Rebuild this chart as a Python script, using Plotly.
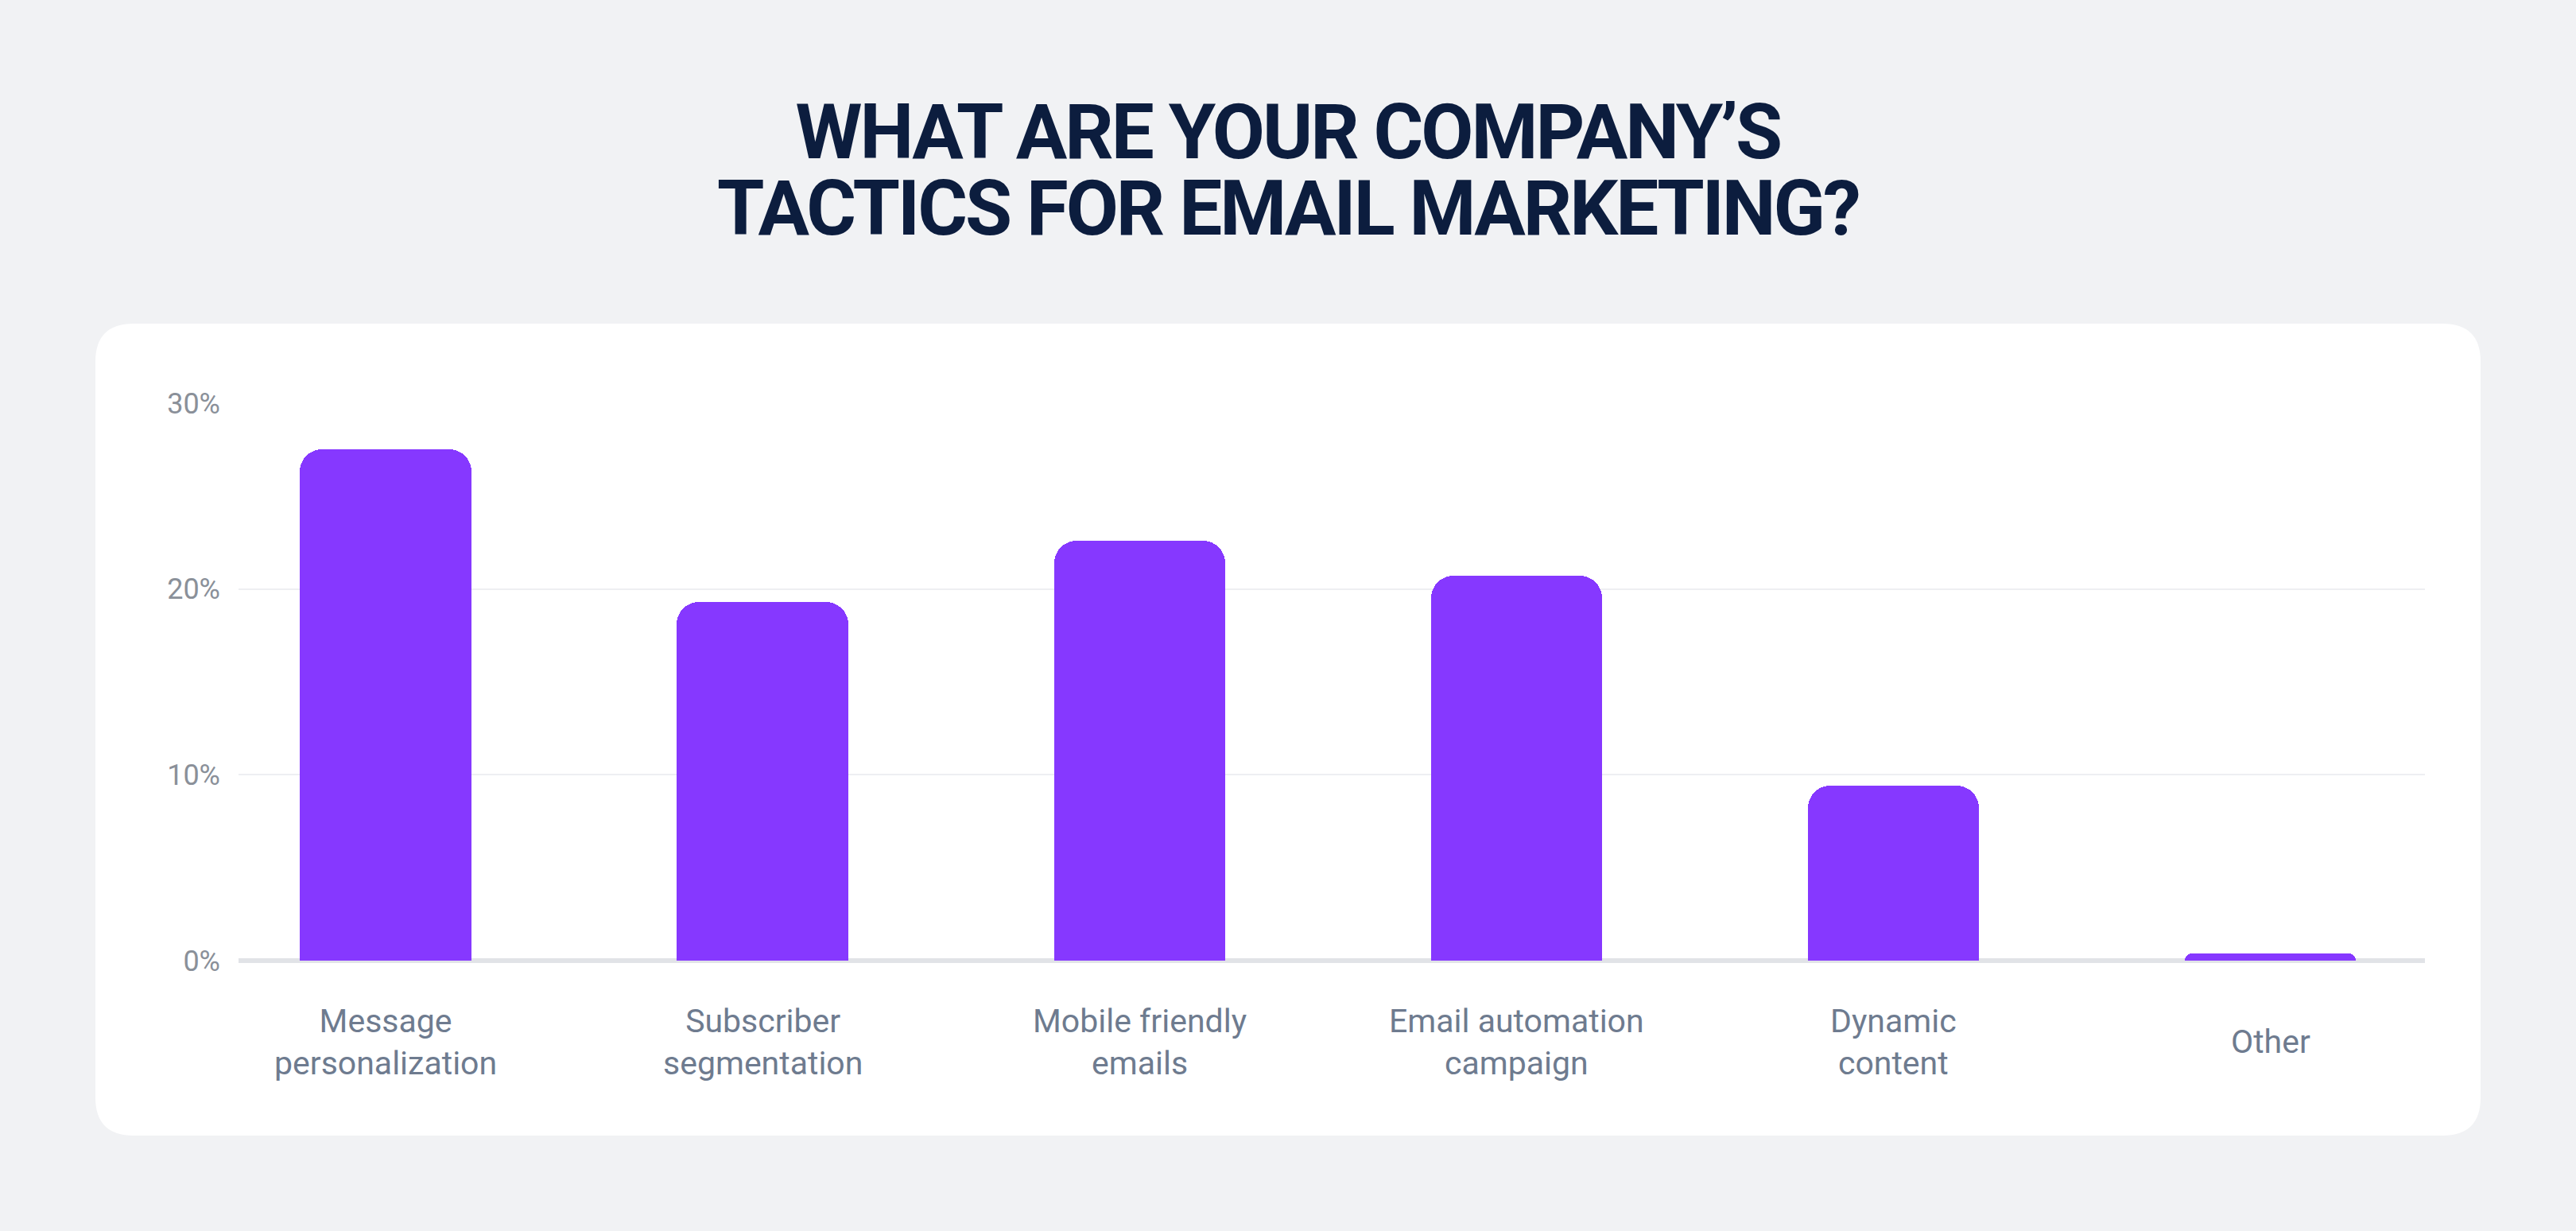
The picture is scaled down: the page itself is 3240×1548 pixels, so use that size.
import plotly.graph_objects as go

W, H = 3240, 1548

# data
categories = ["Message personalization", "Subscriber segmentation", "Mobile friendly emails",
              "Email automation campaign", "Dynamic content", "Other"]
tick_labels = ["Message<br>personalization", "Subscriber<br>segmentation", "Mobile friendly<br>emails",
               "Email automation<br>campaign", "Dynamic<br>content", "Other"]
shares = [27.5, 19.3, 22.6, 20.7, 9.4, 0.4]
y_ticks = [0, 10, 20, 30]
y_tick_text = ["0%", "10%", "20%", "30%"]
title_lines = ["WHAT ARE YOUR COMPANY’S", "TACTICS FOR EMAIL MARKETING?"]


def px_x(x):
    # pixel from left -> paper fraction
    return x / W


def px_y(y):
    # pixel from top -> paper fraction
    return 1 - y / H


def rounded_box(x0, y0, x1, y1, r):
    l, rt = px_x(x0), px_x(x1)
    top, bot = px_y(y0), px_y(y1)
    rx, ry = r / W, r / H
    return (f"M {l+rx},{top} L {rt-rx},{top} Q {rt},{top} {rt},{top-ry} "
            f"L {rt},{bot+ry} Q {rt},{bot} {rt-rx},{bot} "
            f"L {l+rx},{bot} Q {l},{bot} {l},{bot+ry} "
            f"L {l},{top-ry} Q {l},{top} {l+rx},{top} Z")


fig = go.Figure()

fig.add_trace(go.Bar(
    x=categories, y=shares, width=0.454,
    marker=dict(color="#8638FF", line=dict(width=0), cornerradius=28),
    hoverinfo="skip",
))

# white card behind the plot
fig.add_shape(type="path", xref="paper", yref="paper",
              path=rounded_box(120, 407, 3120, 1428, 48),
              fillcolor="white", line=dict(width=0), layer="below")

# title: small base size keeps the two lines tight, spans carry the real size
big = "<span style='font-size:96px;letter-spacing:-3px'>{}</span>"
title_text = "<br>".join(big.format(t) for t in title_lines)
fig.add_annotation(x=0.5, y=px_y(214), xref="paper", yref="paper",
                   text=title_text, showarrow=False, yanchor="middle",
                   font=dict(family="Roboto", size=74, color="#0C1D3E", weight=700))

for cat, lab in zip(categories, tick_labels):
    fig.add_annotation(x=cat, xref="x", y=px_y(1310), yref="paper",
                       text=lab, showarrow=False, yanchor="middle",
                       font=dict(family="Roboto", size=41, color="#6E7B8F"))

fig.update_layout(
    width=W, height=H,
    margin=dict(l=0, r=0, t=0, b=0, pad=0, autoexpand=False),
    paper_bgcolor="#F1F2F4",
    plot_bgcolor="rgba(0,0,0,0)",
    showlegend=False,
    bargap=0,
    xaxis=dict(domain=[px_x(300), px_x(3050)], range=[-0.39, 5.41], automargin=False,
               showgrid=False, showticklabels=False, zeroline=False, showline=False,
               fixedrange=True),
    yaxis=dict(domain=[px_y(1208), px_y(507)], range=[0, 30], automargin=False,
               tickmode="array", tickvals=y_ticks, ticktext=y_tick_text,
               gridcolor="#EEEFF2", gridwidth=2,
               zeroline=True, zerolinecolor="#E1E3E7", zerolinewidth=6,
               showline=False, ticks="", ticklabelstandoff=22,
               tickfont=dict(family="Roboto", size=36, color="#8A9099"),
               fixedrange=True),
)

fig.write_html("out.html", config={"displayModeBar": False},
               post_script="document.body.style.margin='0px';")
